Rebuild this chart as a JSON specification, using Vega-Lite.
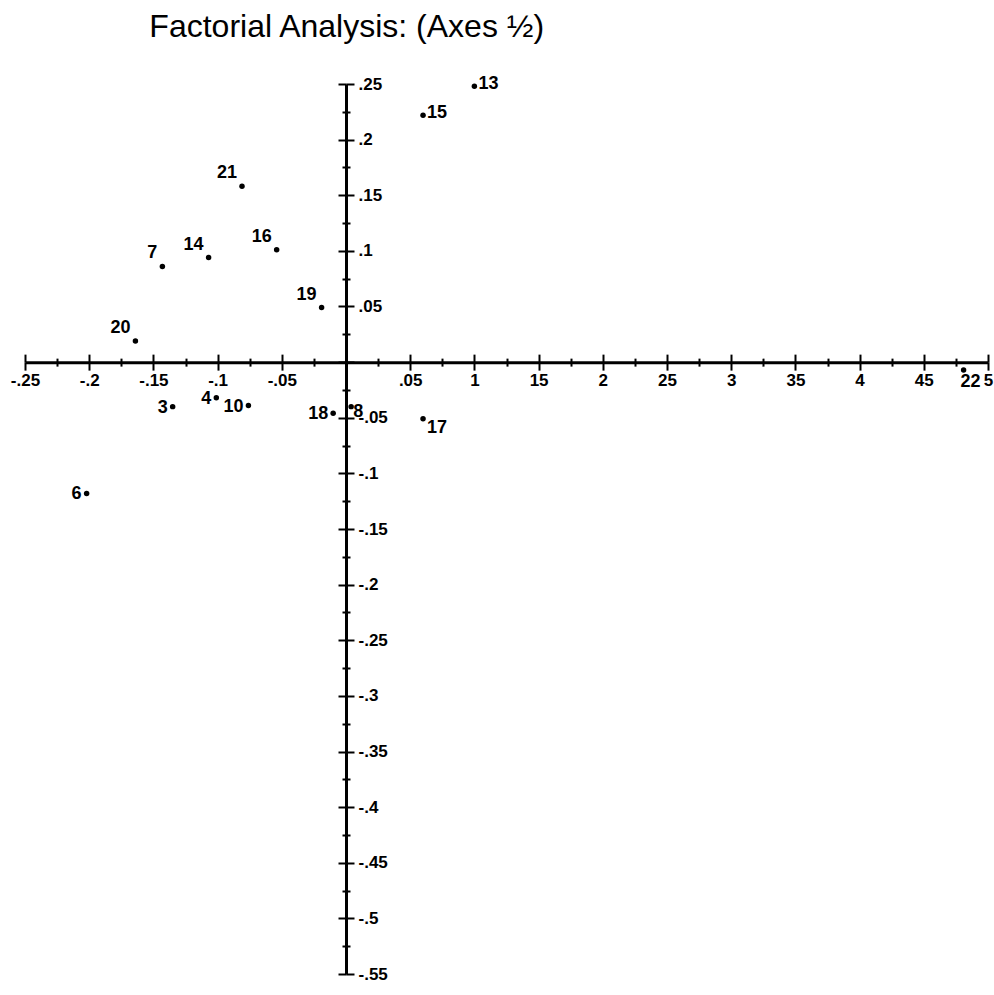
{
  "$schema": "https://vega.github.io/schema/vega-lite/v6.json",
  "width": 963,
  "height": 890,
  "autosize": {"type": "none"},
  "padding": {"left": 25, "top": 84, "right": 6, "bottom": 21},
  "background": "white",
  "title": {
    "text": "Factorial Analysis: (Axes ½)",
    "font": "Liberation Sans",
    "fontSize": 32,
    "fontWeight": "normal",
    "color": "black",
    "anchor": "start",
    "dx": 139,
    "offset": 31
  },
  "config": {
    "view": {"stroke": null},
    "axis": {
      "grid": false,
      "title": null,
      "domainColor": "black",
      "domainWidth": 3,
      "tickColor": "black",
      "tickWidth": 2,
      "labelFont": "Liberation Sans",
      "labelFontWeight": "bold",
      "labelFontSize": 17,
      "labelColor": "black",
      "labelOverlap": false,
      "labelFlush": false,
      "labelBound": false
    },
    "text": {"font": "Liberation Sans", "fontWeight": "bold", "fontSize": 18, "color": "black"}
  },
  "data": {
    "values": [
      {"id": "13", "f1": 0.100, "f2": 0.248},
      {"id": "15", "f1": 0.060, "f2": 0.222},
      {"id": "21", "f1": -0.081, "f2": 0.158},
      {"id": "16", "f1": -0.054, "f2": 0.101},
      {"id": "14", "f1": -0.107, "f2": 0.094},
      {"id": "7", "f1": -0.143, "f2": 0.086},
      {"id": "19", "f1": -0.019, "f2": 0.049},
      {"id": "20", "f1": -0.164, "f2": 0.019},
      {"id": "22", "f1": 0.481, "f2": -0.007},
      {"id": "3", "f1": -0.135, "f2": -0.040},
      {"id": "4", "f1": -0.101, "f2": -0.032},
      {"id": "10", "f1": -0.076, "f2": -0.039},
      {"id": "18", "f1": -0.010, "f2": -0.046},
      {"id": "8", "f1": 0.004, "f2": -0.040},
      {"id": "17", "f1": 0.060, "f2": -0.051},
      {"id": "6", "f1": -0.202, "f2": -0.118}
    ]
  },
  "resolve": {"axis": {"x": "independent", "y": "independent"}},
  "layer": [
    {
      "mark": {"type": "point", "filled": true, "color": "black", "size": 30, "opacity": 1},
      "encoding": {
        "x": {
          "field": "f1", "type": "quantitative",
          "scale": {"domain": [-0.25, 0.5], "nice": false, "zero": false},
          "axis": {
            "orient": "bottom",
            "offset": {"expr": "scale('y', 0) - height"},
            "values": [-0.25,-0.225,-0.2,-0.175,-0.15,-0.125,-0.1,-0.075,-0.05,-0.025,0,0.025,0.05,0.075,0.1,0.125,0.15,0.175,0.2,0.225,0.25,0.275,0.3,0.325,0.35,0.375,0.4,0.425,0.45,0.475,0.5],
            "tickSize": {"condition": {"test": "abs(round(datum.value*40)) % 2 == 1", "value": 4}, "value": 8},
            "labelPadding": 2,
            "labelExpr": "datum.value == 0 || abs(round(datum.value*40)) % 2 == 1 ? '' : (datum.value > 0.075 ? replace(format(datum.value, '.2~f'), '0.', '') : (datum.value < 0 ? '-' : '') + replace(format(abs(datum.value), '.2~f'), '0.', '.'))"
          }
        },
        "y": {
          "field": "f2", "type": "quantitative",
          "scale": {"domain": [-0.55, 0.25], "nice": false, "zero": false},
          "axis": {
            "orient": "right",
            "offset": {"expr": "scale('x', 0) - width"},
            "values": [0.25,0.225,0.2,0.175,0.15,0.125,0.1,0.075,0.05,0.025,0,-0.025,-0.05,-0.075,-0.1,-0.125,-0.15,-0.175,-0.2,-0.225,-0.25,-0.275,-0.3,-0.325,-0.35,-0.375,-0.4,-0.425,-0.45,-0.475,-0.5,-0.525,-0.55],
            "tickSize": {"condition": {"test": "abs(round(datum.value*40)) % 2 == 1", "value": 4}, "value": 8},
            "labelPadding": 4,
            "labelExpr": "datum.value == 0 || abs(round(datum.value*40)) % 2 == 1 ? '' : (datum.value < 0 ? '-' : '') + replace(format(abs(datum.value), '.2~f'), '0.', '.')"
          }
        }
      }
    },
    {
      "transform": [{"filter": "indexof(['13','15'], datum.id) >= 0"}],
      "mark": {"type": "text", "align": "left", "baseline": "middle", "dx": 4, "dy": -2},
      "encoding": {
        "x": {
          "field": "f1", "type": "quantitative",
          "axis": {
            "orient": "top",
            "offset": {"expr": "-scale('y', 0)"},
            "values": [-0.25,-0.225,-0.2,-0.175,-0.15,-0.125,-0.1,-0.075,-0.05,-0.025,0,0.025,0.05,0.075,0.1,0.125,0.15,0.175,0.2,0.225,0.25,0.275,0.3,0.325,0.35,0.375,0.4,0.425,0.45,0.475,0.5],
            "tickSize": {"condition": {"test": "abs(round(datum.value*40)) % 2 == 1", "value": 4}, "value": 8},
            "labels": false,
            "domain": false
          }
        },
        "y": {
          "field": "f2", "type": "quantitative",
          "axis": {
            "orient": "left",
            "offset": {"expr": "-scale('x', 0)"},
            "values": [0.25,0.225,0.2,0.175,0.15,0.125,0.1,0.075,0.05,0.025,0,-0.025,-0.05,-0.075,-0.1,-0.125,-0.15,-0.175,-0.2,-0.225,-0.25,-0.275,-0.3,-0.325,-0.35,-0.375,-0.4,-0.425,-0.45,-0.475,-0.5,-0.525,-0.55],
            "tickSize": {"condition": {"test": "abs(round(datum.value*40)) % 2 == 1", "value": 4}, "value": 8},
            "labels": false,
            "domain": false
          }
        },
        "text": {"field": "id"}
      }
    },
    {
      "transform": [{"filter": "datum.id == '8'"}],
      "mark": {"type": "text", "align": "left", "baseline": "middle", "dx": 2, "dy": 5},
      "encoding": {
        "x": {"field": "f1", "type": "quantitative", "axis": null},
        "y": {"field": "f2", "type": "quantitative", "axis": null},
        "text": {"field": "id"}
      }
    },
    {
      "transform": [{"filter": "indexof(['3','4','10','18','6'], datum.id) >= 0"}],
      "mark": {"type": "text", "align": "right", "baseline": "middle", "dx": -5, "dy": 1},
      "encoding": {
        "x": {"field": "f1", "type": "quantitative", "axis": null},
        "y": {"field": "f2", "type": "quantitative", "axis": null},
        "text": {"field": "id"}
      }
    },
    {
      "transform": [{"filter": "indexof(['21','16','14','7','19','20'], datum.id) >= 0"}],
      "mark": {"type": "text", "align": "right", "baseline": "middle", "dx": -5, "dy": -13},
      "encoding": {
        "x": {"field": "f1", "type": "quantitative", "axis": null},
        "y": {"field": "f2", "type": "quantitative", "axis": null},
        "text": {"field": "id"}
      }
    },
    {
      "transform": [{"filter": "datum.id == '17'"}],
      "mark": {"type": "text", "align": "left", "baseline": "middle", "dx": 4, "dy": 9},
      "encoding": {
        "x": {"field": "f1", "type": "quantitative", "axis": null},
        "y": {"field": "f2", "type": "quantitative", "axis": null},
        "text": {"field": "id"}
      }
    },
    {
      "transform": [{"filter": "datum.id == '22'"}],
      "mark": {"type": "text", "align": "left", "baseline": "middle", "dx": -3, "dy": 12},
      "encoding": {
        "x": {"field": "f1", "type": "quantitative", "axis": null},
        "y": {"field": "f2", "type": "quantitative", "axis": null},
        "text": {"field": "id"}
      }
    }
  ]
}
